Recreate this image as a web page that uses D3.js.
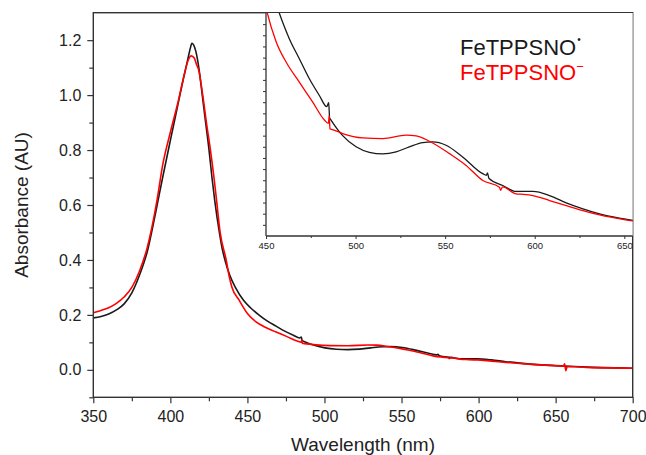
<!DOCTYPE html>
<html>
<head>
<meta charset="utf-8">
<script src="https://cdn.jsdelivr.net/npm/d3@7"></script>
<style>
body { margin: 0; background: #fff; }
svg { display: block; font-family: "Liberation Sans", Arial, sans-serif; }
</style>
</head>
<body>
<div id="canvas"></div>
<script>
// FeTPPSNO radical (black)
const blackWl = [350, 355, 360, 365, 370, 375, 380, 385, 390, 395, 400, 405, 407.5, 410, 412, 413, 414, 415, 416.5, 418.6, 420.7, 422.9, 425.1, 427, 428.8, 431.8, 433.5, 435.5, 438.5, 442.2, 447.6, 452, 457.4, 463, 468.6, 474.2, 479.8, 483.9, 485, 485.5, 486.3, 492.8, 500.3, 507.7, 515.2, 522.6, 530, 537.5, 543, 550.5, 559.8, 571, 573, 573.6, 574.5, 582.2, 589.6, 599, 608.3, 617.6, 626.9, 636.2, 650, 662, 675, 690, 700];
const blackAbs = [0.189, 0.194, 0.203, 0.218, 0.240, 0.280, 0.345, 0.430, 0.560, 0.700, 0.835, 0.968, 1.035, 1.098, 1.148, 1.172, 1.189, 1.184, 1.160, 1.095, 1.000, 0.900, 0.800, 0.700, 0.616, 0.500, 0.445, 0.398, 0.345, 0.300, 0.252, 0.226, 0.200, 0.177, 0.159, 0.141, 0.126, 0.116, 0.1195, 0.106, 0.104, 0.090, 0.080, 0.075, 0.0736, 0.0754, 0.080, 0.0838, 0.0844, 0.0814, 0.0709, 0.0559, 0.0545, 0.0565, 0.0515, 0.0453, 0.040, 0.040, 0.0363, 0.0297, 0.0243, 0.0198, 0.0153, 0.012, 0.009, 0.007, 0.006];

// FeTPPSNO anion (red)
const redWl = [350, 355, 360, 365, 370, 375, 380, 385, 391.3, 395, 400, 405, 409.7, 411.5, 413.6, 415.5, 417.2, 418.2, 421, 423.4, 426, 428.3, 430, 432.3, 436.3, 438, 440, 444.8, 450, 455.6, 461.2, 468.6, 476.1, 482.6, 484.8, 485.3, 485.7, 487, 492.8, 504, 515.2, 528.2, 533.8, 541.2, 552.4, 561.7, 571, 580.3, 581, 582, 589.6, 592, 599, 608.3, 617.6, 626.9, 636.2, 650, 655, 655.8, 656.6, 657.5, 670, 685, 700];
const redAbs = [0.208, 0.216, 0.226, 0.242, 0.265, 0.300, 0.360, 0.445, 0.616, 0.745, 0.865, 0.975, 1.090, 1.126, 1.143, 1.135, 1.108, 1.095, 1.000, 0.900, 0.800, 0.700, 0.616, 0.500, 0.398, 0.345, 0.300, 0.252, 0.205, 0.1745, 0.156, 0.138, 0.120, 0.104, 0.101, 0.108, 0.096, 0.0955, 0.0919, 0.088, 0.0874, 0.0904, 0.0898, 0.085, 0.0739, 0.0633, 0.0498, 0.0438, 0.041, 0.0440, 0.0378, 0.0375, 0.0363, 0.0318, 0.0273, 0.0228, 0.0189, 0.0147, 0.0135, 0.022, -0.003, 0.012, 0.009, 0.007, 0.006];

const xTicks = [350, 400, 450, 500, 550, 600, 650, 700];
const xMinorTicks = [375, 425, 475, 525, 575, 625, 675];
const yTicks = [0.0, 0.2, 0.4, 0.6, 0.8, 1.0, 1.2];
const yMinorTicks = [-0.1, 0.1, 0.3, 0.5, 0.7, 0.9, 1.1];
const insetXTicks = [450, 500, 550, 600, 650];
const insetXMinorTicks = [475, 525, 575, 625];
const insetYTicks = d3.range(1, 20).map(i => i / 100);

const margin = {
    Top: 12.7,
    Right: 13.3,
    Bottom: 57.7,
    Left: 93.3
};
const width = 646 - margin.Left - margin.Right;
const height = 455 - margin.Top - margin.Bottom;
const axisColor = "#333";

const svg = d3.select("#canvas").append("svg")
    .attr("width", 646)
    .attr("height", 455);

const g = svg.append("g")
    .attr("transform", `translate(${margin.Left}, ${margin.Top})`);

const x = d3.scaleLinear().domain([350, 700]).range([0, width]);
const y = d3.scaleLinear().domain([-0.1, 1.3]).range([height, 0]);

const line = d3.line()
    .x(d => x(d[0]))
    .y(d => y(d[1]))
    .curve(d3.curveMonotoneX);

function styleAxis(sel, fontSize) {
    sel.select(".domain").remove();
    sel.selectAll("line").attr("stroke", axisColor).attr("stroke-width", 1.2);
    sel.selectAll("text").attr("fill", "#222").attr("font-size", fontSize)
        .attr("font-family", "Liberation Sans, Arial, sans-serif");
}

// main axes
g.append("g").attr("transform", `translate(0, ${height})`)
    .call(d3.axisBottom(x).tickValues(xTicks).tickSize(6).tickPadding(7).tickFormat(d3.format("d")))
    .call(s => styleAxis(s, 16));
g.append("g").attr("transform", `translate(0, ${height})`)
    .call(d3.axisBottom(x).tickValues(xMinorTicks).tickSize(4).tickFormat(""))
    .call(s => styleAxis(s, 16));
g.append("g")
    .call(d3.axisLeft(y).tickValues(yTicks).tickSize(6).tickPadding(6).tickFormat(d3.format(".1f")))
    .call(s => styleAxis(s, 16));
g.append("g")
    .call(d3.axisLeft(y).tickValues(yMinorTicks).tickSize(4).tickFormat(""))
    .call(s => styleAxis(s, 16));

// main curves
g.append("path").datum(d3.zip(blackWl, blackAbs))
    .attr("d", line).attr("fill", "none").attr("stroke", "#1a1a1a").attr("stroke-width", 1.6);
g.append("path").datum(d3.zip(redWl, redAbs))
    .attr("d", line).attr("fill", "none").attr("stroke", "#ff0000").attr("stroke-width", 1.6);

// inset
const inset = { Left: 266, Top: 13, Width: 358.3, Height: 223 };
const ig = svg.append("g").attr("transform", `translate(${inset.Left}, ${inset.Top})`);
const insetBoxWidth = margin.Left + width - inset.Left;

const xi = d3.scaleLinear().domain([450, 650]).range([0, inset.Width]);
const yi = d3.scaleLinear().domain([0, 0.2]).range([inset.Height, 0]);

ig.append("rect").attr("width", insetBoxWidth).attr("height", inset.Height).attr("fill", "#fff");
svg.append("clipPath").attr("id", "insetClip")
    .append("rect").attr("width", insetBoxWidth).attr("height", inset.Height);

const insetLine = d3.line()
    .x(d => xi(d[0]))
    .y(d => yi(d[1]))
    .curve(d3.curveMonotoneX);

const curves = ig.append("g").attr("clip-path", "url(#insetClip)");
curves.append("path").datum(d3.zip(blackWl, blackAbs))
    .attr("d", insetLine).attr("fill", "none").attr("stroke", "#1a1a1a").attr("stroke-width", 1.3);
curves.append("path").datum(d3.zip(redWl, redAbs))
    .attr("d", insetLine).attr("fill", "none").attr("stroke", "#ff0000").attr("stroke-width", 1.3);

ig.append("g").attr("transform", `translate(0, ${inset.Height})`)
    .call(d3.axisBottom(xi).tickValues(insetXTicks).tickSize(3).tickPadding(3).tickFormat(d3.format("d")))
    .call(s => styleAxis(s, 9.5));
ig.append("g").attr("transform", `translate(0, ${inset.Height})`)
    .call(d3.axisBottom(xi).tickValues(insetXMinorTicks).tickSize(2).tickFormat(""))
    .call(s => styleAxis(s, 9.5));
ig.append("g")
    .call(d3.axisLeft(yi).tickValues(insetYTicks).tickSize(3).tickFormat(""))
    .call(s => styleAxis(s, 9.5));
ig.selectAll("line").attr("stroke-width", 1);

ig.append("line").attr("x1", 0).attr("x2", 0).attr("y1", 0).attr("y2", inset.Height)
    .attr("stroke", axisColor).attr("stroke-width", 1.3);
ig.append("line").attr("x1", 0).attr("x2", insetBoxWidth).attr("y1", inset.Height).attr("y2", inset.Height)
    .attr("stroke", axisColor).attr("stroke-width", 1.3);

// frame
g.append("rect").attr("width", width).attr("height", height)
    .attr("fill", "none").attr("stroke", axisColor).attr("stroke-width", 1.4);

// legend
const legend = svg.append("g").attr("font-size", 22);
const l1 = legend.append("text").attr("x", 460).attr("y", 55).attr("fill", "#1a1a1a");
l1.append("tspan").text("FeTPPSNO");
l1.append("tspan").attr("font-size", 10).attr("dx", 1).attr("dy", -12).text("•");
const l2 = legend.append("text").attr("x", 460).attr("y", 80).attr("fill", "#ff0000");
l2.append("tspan").text("FeTPPSNO");
l2.append("tspan").attr("font-size", 13).attr("dy", -9).text("−");

// axis titles
svg.append("text")
    .attr("x", margin.Left + width / 2).attr("y", 451)
    .attr("text-anchor", "middle").attr("font-size", 19).attr("fill", "#222")
    .text("Wavelength (nm)");
svg.append("text")
    .attr("transform", `translate(28, ${margin.Top + height / 2}) rotate(-90)`)
    .attr("text-anchor", "middle").attr("font-size", 19).attr("fill", "#222")
    .text("Absorbance (AU)");
</script>
</body>
</html>
